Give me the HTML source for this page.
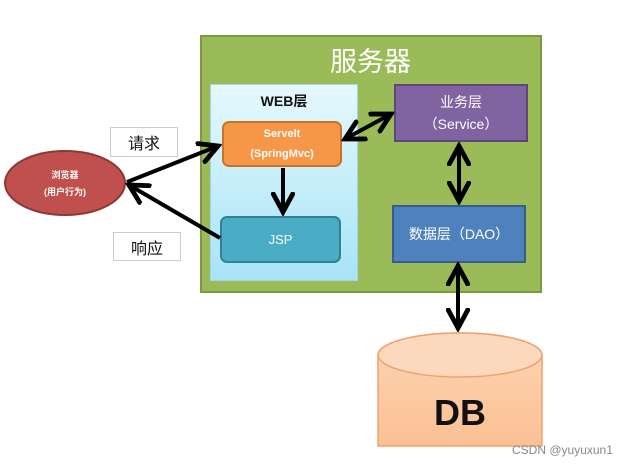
<!DOCTYPE html>
<html><head><meta charset="utf-8"><style>
body{margin:0;background:#fff;width:635px;height:466px;overflow:hidden;position:relative;font-family:"Liberation Sans","Noto Sans CJK SC",sans-serif}
.a{position:absolute;box-sizing:border-box;display:flex;align-items:center;justify-content:center;text-align:center;color:#fff}
</style></head><body>
<div class="a" style="left:200px;top:35px;width:342px;height:258px;background:#9bbb59;border:2px solid #7a9a3e"></div>
<div class="a" style="left:330px;top:40px;width:100px;height:38px;font-size:27px;color:#fff;justify-content:flex-start">服务器</div>
<div class="a" style="left:210px;top:84px;width:148px;height:197px;background:linear-gradient(#e6f8fd,#a6e4f7);border:1px solid #9fd7ea"></div>
<div class="a" style="left:210px;top:90px;width:148px;height:22px;color:#111;font-weight:bold;font-size:14px">WEB层</div>
<div class="a" style="left:222px;top:121px;width:120px;height:46px;background:#f79646;border:2px solid #c8732c;border-radius:7px;font-size:11px;font-weight:bold;line-height:20px">Servelt<br>(SpringMvc)</div>
<div class="a" style="left:220px;top:216px;width:121px;height:47px;background:#4bacc6;border:2px solid #357f93;border-radius:7px;font-size:13px">JSP</div>
<div class="a" style="left:394px;top:84px;width:134px;height:58px;background:#8064a2;border:2px solid #5c4778;font-size:14px;line-height:22px">业务层<br>（Service）</div>
<div class="a" style="left:392px;top:205px;width:134px;height:58px;background:#4f81bd;border:2px solid #385d8a;font-size:14px">数据层（DAO）</div>
<div class="a" style="left:110px;top:127px;width:68px;height:30px;border:1px solid #ccc;color:#111;font-size:16px">请求</div>
<div class="a" style="left:113px;top:232px;width:68px;height:29px;border:1px solid #ccc;color:#111;font-size:16px">响应</div>
<svg style="position:absolute;left:0;top:0" width="635" height="466">
<defs>
<linearGradient id="g" x1="0" y1="0" x2="0" y2="1"><stop offset="0" stop-color="#fbd5b5"/><stop offset="1" stop-color="#fcc093"/></linearGradient>
<marker id="m" markerWidth="6" markerHeight="6" refX="5" refY="3" orient="auto-start-reverse" markerUnits="strokeWidth"><path d="M0,0.3 L5,3 L0,5.7" fill="none" stroke="#000" stroke-width="1.2"/></marker>
</defs>
<ellipse cx="65" cy="183" rx="60" ry="32" fill="#c0504d" stroke="#8c3836" stroke-width="2"/>
<text x="65" y="178" font-size="9" fill="#fff" text-anchor="middle" font-weight="bold">浏览器</text>
<text x="65" y="195" font-size="9" fill="#fff" text-anchor="middle" font-weight="bold">(用户行为)</text>
<path d="M378,446 V355 A82,22 0 0 1 542,355 V446 Z" fill="url(#g)" stroke="#f0a070" stroke-width="1.5"/>
<ellipse cx="460" cy="355" rx="82" ry="22" fill="#fcd9bd" stroke="#f0a070" stroke-width="1.5"/>
<text x="460" y="425" font-size="36" font-weight="bold" fill="#111" text-anchor="middle">DB</text>
<g stroke="#000" stroke-width="4" fill="none">
<line x1="127" y1="182" x2="218" y2="146" marker-end="url(#m)"/>
<line x1="220" y1="238" x2="129" y2="185" marker-end="url(#m)"/>
<line x1="283" y1="168" x2="283" y2="212" marker-end="url(#m)"/>
<line x1="345" y1="139" x2="391" y2="114" marker-start="url(#m)" marker-end="url(#m)"/>
<line x1="459" y1="146" x2="459" y2="201" marker-start="url(#m)" marker-end="url(#m)"/>
<line x1="458" y1="266" x2="458" y2="328" marker-start="url(#m)" marker-end="url(#m)"/>
</g>
<text x="512" y="454" font-size="12" fill="#888">CSDN @yuyuxun1</text>
</svg>
</body></html>
